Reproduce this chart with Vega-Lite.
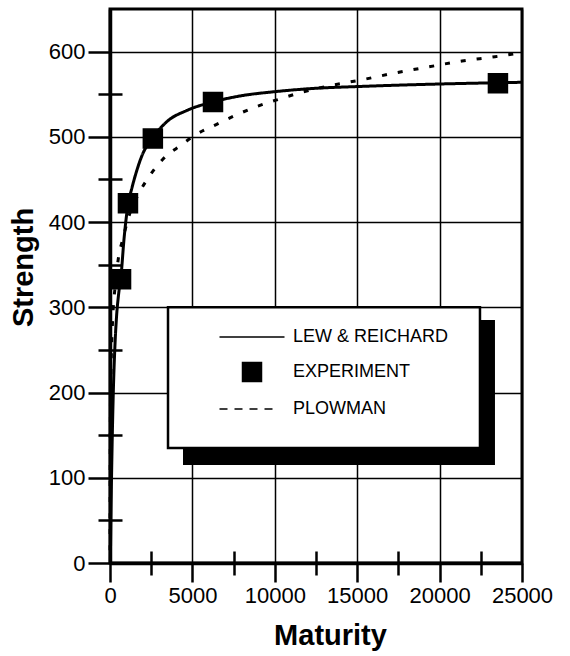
{
  "$schema": "https://vega.github.io/schema/vega-lite/v6.json",
  "width": 412,
  "height": 554,
  "autosize": {"type": "none"},
  "padding": {"left": 110, "top": 9, "right": 48, "bottom": 93},
  "background": "white",
  "config": {
    "view": {"stroke": "black", "strokeWidth": 3},
    "axis": {
      "domainColor": "black", "domainWidth": 3.5,
      "tickColor": "black", "tickWidth": 2.5,
      "gridColor": "black", "gridWidth": 1.5, "gridOpacity": 1,
      "labelFont": "Liberation Sans, Arial, sans-serif", "labelFontSize": 22, "labelColor": "black",
      "labelFlush": false, "labelOverlap": false,
      "titleFont": "Liberation Sans, Arial, sans-serif", "titleFontSize": 29, "titleFontWeight": "bold", "titleColor": "black"
    }
  },
  "datasets": {
    "curves": [
      {"series": "LEW & REICHARD", "maturity": 20, "strength": 0},
      {"series": "LEW & REICHARD", "maturity": 60, "strength": 60},
      {"series": "LEW & REICHARD", "maturity": 120, "strength": 130},
      {"series": "LEW & REICHARD", "maturity": 200, "strength": 200},
      {"series": "LEW & REICHARD", "maturity": 300, "strength": 255},
      {"series": "LEW & REICHARD", "maturity": 400, "strength": 290},
      {"series": "LEW & REICHARD", "maturity": 520, "strength": 315},
      {"series": "LEW & REICHARD", "maturity": 670, "strength": 337},
      {"series": "LEW & REICHARD", "maturity": 850, "strength": 380},
      {"series": "LEW & REICHARD", "maturity": 1090, "strength": 420},
      {"series": "LEW & REICHARD", "maturity": 1330, "strength": 440},
      {"series": "LEW & REICHARD", "maturity": 1650, "strength": 462},
      {"series": "LEW & REICHARD", "maturity": 1940, "strength": 478},
      {"series": "LEW & REICHARD", "maturity": 2600, "strength": 499},
      {"series": "LEW & REICHARD", "maturity": 3460, "strength": 518},
      {"series": "LEW & REICHARD", "maturity": 4670, "strength": 531},
      {"series": "LEW & REICHARD", "maturity": 6250, "strength": 541},
      {"series": "LEW & REICHARD", "maturity": 7900, "strength": 548},
      {"series": "LEW & REICHARD", "maturity": 10000, "strength": 553},
      {"series": "LEW & REICHARD", "maturity": 12500, "strength": 557},
      {"series": "LEW & REICHARD", "maturity": 15000, "strength": 559},
      {"series": "LEW & REICHARD", "maturity": 20000, "strength": 562},
      {"series": "LEW & REICHARD", "maturity": 25000, "strength": 564},
      {"series": "PLOWMAN", "maturity": 2, "strength": 15},
      {"series": "PLOWMAN", "maturity": 20, "strength": 160},
      {"series": "PLOWMAN", "maturity": 50, "strength": 215},
      {"series": "PLOWMAN", "maturity": 100, "strength": 255},
      {"series": "PLOWMAN", "maturity": 200, "strength": 300},
      {"series": "PLOWMAN", "maturity": 300, "strength": 322},
      {"series": "PLOWMAN", "maturity": 490, "strength": 355},
      {"series": "PLOWMAN", "maturity": 790, "strength": 381},
      {"series": "PLOWMAN", "maturity": 1200, "strength": 410},
      {"series": "PLOWMAN", "maturity": 1820, "strength": 436},
      {"series": "PLOWMAN", "maturity": 2430, "strength": 455},
      {"series": "PLOWMAN", "maturity": 3220, "strength": 474},
      {"series": "PLOWMAN", "maturity": 4370, "strength": 491},
      {"series": "PLOWMAN", "maturity": 5000, "strength": 500},
      {"series": "PLOWMAN", "maturity": 6500, "strength": 515},
      {"series": "PLOWMAN", "maturity": 7470, "strength": 524},
      {"series": "PLOWMAN", "maturity": 9400, "strength": 539},
      {"series": "PLOWMAN", "maturity": 10400, "strength": 545},
      {"series": "PLOWMAN", "maturity": 11400, "strength": 551},
      {"series": "PLOWMAN", "maturity": 13350, "strength": 560},
      {"series": "PLOWMAN", "maturity": 15300, "strength": 567},
      {"series": "PLOWMAN", "maturity": 17300, "strength": 575},
      {"series": "PLOWMAN", "maturity": 19300, "strength": 582},
      {"series": "PLOWMAN", "maturity": 21360, "strength": 589},
      {"series": "PLOWMAN", "maturity": 23360, "strength": 594},
      {"series": "PLOWMAN", "maturity": 25000, "strength": 599}
    ],
    "experiment": [
      {"series": "EXPERIMENT", "maturity": 670, "strength": 333},
      {"series": "EXPERIMENT", "maturity": 1090, "strength": 422},
      {"series": "EXPERIMENT", "maturity": 2600, "strength": 498},
      {"series": "EXPERIMENT", "maturity": 6250, "strength": 541},
      {"series": "EXPERIMENT", "maturity": 23540, "strength": 563}
    ]
  },
  "layer": [
    {
      "data": {"values": [{}]},
      "mark": {"type": "rect", "fill": "black"},
      "encoding": {
        "x": {"datum": 4430, "type": "quantitative", "scale": {"domain": [0, 25000], "nice": false}, "axis": null},
        "x2": {"datum": 23360},
        "y": {"datum": 285, "type": "quantitative", "scale": {"domain": [0, 650], "nice": false}, "axis": null},
        "y2": {"datum": 115}
      }
    },
    {
      "data": {"values": [{}]},
      "mark": {"type": "rect", "fill": "white", "stroke": "black", "strokeWidth": 2.5},
      "encoding": {
        "x": {"datum": 3520, "type": "quantitative", "scale": {"domain": [0, 25000], "nice": false}, "axis": null},
        "x2": {"datum": 22450},
        "y": {"datum": 300, "type": "quantitative", "scale": {"domain": [0, 650], "nice": false}, "axis": null},
        "y2": {"datum": 135}
      }
    },
    {
      "data": {"name": "curves"},
      "mark": {"type": "line", "interpolate": "monotone", "strokeWidth": 3, "color": "black"},
      "encoding": {
        "x": {
          "field": "maturity", "type": "quantitative",
          "scale": {"domain": [0, 25000], "nice": false},
          "axis": {"orient": "bottom", "title": "Maturity", "values": [0, 5000, 10000, 15000, 20000, 25000], "format": "d",
                   "grid": true, "tickSize": 19, "labelPadding": 3,
                   "titleX": 220, "titleY": 58, "titleBaseline": "top"}
        },
        "y": {
          "field": "strength", "type": "quantitative",
          "scale": {"domain": [0, 650], "nice": false},
          "axis": {"orient": "left", "title": "Strength", "values": [0, 100, 200, 300, 400, 500, 600],
                   "grid": true, "tickSize": 22, "labelPadding": 3,
                   "titleX": -72, "titleY": 258, "titleAngle": 270, "titleBaseline": "bottom"}
        },
        "strokeDash": {
          "field": "series", "type": "nominal",
          "scale": {"domain": ["LEW & REICHARD", "PLOWMAN"], "range": [[1, 0], [5, 11]]},
          "legend": null
        }
      }
    },
    {
      "data": {"name": "experiment"},
      "mark": {"type": "point", "filled": true, "opacity": 1, "size": 400, "color": "black", "stroke": "black", "strokeWidth": 1.5},
      "encoding": {
        "x": {
          "field": "maturity", "type": "quantitative",
          "scale": {"domain": [0, 25000], "nice": false},
          "axis": {"orient": "bottom", "values": [2500, 7500, 12500, 17500, 22500], "tickSize": 24, "offset": -12,
                   "labels": false, "domain": false, "grid": false, "title": null}
        },
        "y": {
          "field": "strength", "type": "quantitative",
          "scale": {"domain": [0, 650], "nice": false},
          "axis": {"orient": "left", "values": [50, 150, 250, 350, 450, 550], "tickSize": 24, "offset": -12,
                   "labels": false, "domain": false, "grid": false, "title": null}
        },
        "shape": {
          "field": "series", "type": "nominal",
          "scale": {
            "domain": ["LEW & REICHARD", "EXPERIMENT", "PLOWMAN"],
            "range": ["M-3.25,0H3.25", "M-0.95,-0.95H0.95V0.95H-0.95Z", "M-3.25,0H-2.45M-1.75,0H-0.95M-0.25,0H0.55M1.25,0H2.05"]
          },
          "legend": {
            "orient": "none", "legendX": 131, "legendY": 317, "title": null, "padding": 0,
            "labelFont": "Liberation Sans, Arial, sans-serif", "labelFontSize": 18, "labelColor": "black",
            "labelLimit": 0, "labelOffset": 30, "rowPadding": 13, "symbolSize": 400,
            "encode": {"symbols": {"update": {"fill": {"value": "black"}, "stroke": {"value": "black"}, "strokeWidth": {"value": 2.5}, "opacity": {"value": 1}}}}
          }
        }
      }
    }
  ],
  "resolve": {"axis": {"x": "independent", "y": "independent"}}
}
